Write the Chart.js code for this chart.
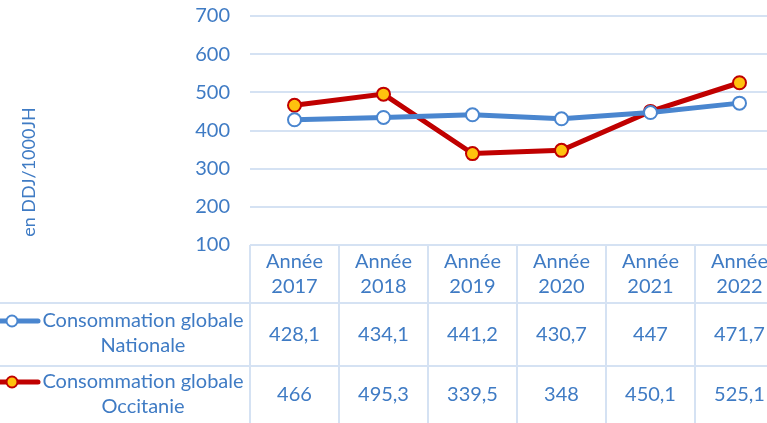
<!DOCTYPE html>
<html><head><meta charset="utf-8">
<script src="https://cdn.jsdelivr.net/npm/chart.js@4/dist/chart.umd.min.js"></script>
<style>html,body{margin:0;padding:0;overflow:hidden;background:#fff;width:767px;height:423px}canvas{display:block}</style>
</head><body>
<canvas id="c" width="800" height="423"></canvas>
<script>
const years = ["Année 2017","Année 2018","Année 2019","Année 2020","Année 2021","Année 2022"];
const nationale = [428.1, 434.1, 441.2, 430.7, 447, 471.7];
const occitanie = [466, 495.3, 339.5, 348, 450.1, 525.1];
const seriesNames = ["Consommation globale Nationale","Consommation globale Occitanie"];
const yTicks = [100,200,300,400,500,600,700];
const yTitle = "en DDJ/1000JH";

const TXT = '#3F7BC4';
const GRID = '#D5E2F3';
const FONT = 'Lato, "Open Sans", sans-serif';
const BLUE = '#4A86CF';
const RED = '#C00000';
const GOLD = '#FFC20E';

const fmt = v => String(v).replace('.', ',');

const tablePlugin = {
  id: 'dataTable',
  afterDraw(chart) {
    const ctx = chart.ctx;
    const x = chart.scales.x, ca = chart.chartArea;
    const n = years.length;
    const cw = (ca.right - ca.left) / n;
    const top = ca.bottom, r1 = top + 58, r2 = r1 + 63, bot = chart.height;
    ctx.save();
    ctx.strokeStyle = GRID; ctx.lineWidth = 2;
    ctx.beginPath();
    ctx.moveTo(ca.left, top); ctx.lineTo(chart.width, top);
    ctx.moveTo(0, r1); ctx.lineTo(chart.width, r1);
    ctx.moveTo(0, r2); ctx.lineTo(chart.width, r2);
    for (let i = 0; i <= n; i++) {
      const xb = x.getPixelForValue(i) - cw / 2;
      ctx.moveTo(xb, top); ctx.lineTo(xb, bot);
    }
    ctx.stroke();
    ctx.fillStyle = TXT;
    ctx.font = '20px ' + FONT;
    ctx.textAlign = 'center'; ctx.textBaseline = 'middle';
    years.forEach((y, i) => {
      const cx = x.getPixelForValue(i);
      const parts = y.split(' ');
      ctx.fillText(parts[0], cx, top + 17);
      ctx.fillText(parts[1], cx, top + 42);
      ctx.fillText(fmt(nationale[i]), cx, r1 + 32);
      ctx.fillText(fmt(occitanie[i]), cx, r2 + 29);
    });
    const rows = [[r1, BLUE, '#fff'], [r2, RED, GOLD]];
    rows.forEach(([ry, col, fill], k) => {
      const ly = ry + (k === 0 ? 18 : 16);
      ctx.strokeStyle = col; ctx.lineWidth = 5; ctx.lineCap = 'round';
      ctx.beginPath(); ctx.moveTo(-5, ly); ctx.lineTo(38, ly); ctx.stroke();
      ctx.beginPath(); ctx.arc(12, ly, 5.5, 0, Math.PI * 2);
      ctx.fillStyle = fill; ctx.fill();
      ctx.lineWidth = 2; ctx.stroke();
      const words = seriesNames[k].split(' ');
      ctx.fillStyle = TXT;
      ctx.fillText(words.slice(0, 2).join(' '), 143, ly);
      ctx.fillText(words.slice(2).join(' '), 143, ly + 25);
    });
    ctx.translate(29, 172); ctx.rotate(-Math.PI / 2);
    ctx.font = '18px ' + FONT;
    ctx.fillText(yTitle, 0, 0);
    ctx.restore();
  }
};

new Chart(document.getElementById('c'), {
  type: 'line',
  data: {
    labels: years,
    datasets: [
      { label: seriesNames[0], data: nationale, borderColor: BLUE, borderWidth: 5,
        pointRadius: 6.5, pointBorderWidth: 2, pointBackgroundColor: '#fff', pointBorderColor: BLUE, tension: 0 },
      { label: seriesNames[1], data: occitanie, borderColor: RED, borderWidth: 5,
        pointRadius: 6.5, pointBorderWidth: 2, pointBackgroundColor: GOLD, pointBorderColor: RED, tension: 0 }
    ]
  },
  options: {
    responsive: false, animation: false,
    layout: { padding: { left: 150, right: 16, top: 16, bottom: 178 } },
    plugins: { legend: { display: false }, tooltip: { enabled: false } },
    scales: {
      x: { display: false, offset: true },
      y: {
        min: 100, max: 700,
        afterFit: s => { s.width = 100; s.paddingTop = 0; },
        afterBuildTicks: s => { s.ticks = yTicks.map(v => ({ value: v })); },
        ticks: { color: TXT, font: { family: FONT, size: 20 }, padding: 20 },
        grid: { color: GRID, lineWidth: 2, drawTicks: false },
        border: { display: false }
      }
    }
  },
  plugins: [tablePlugin]
});
</script>
</body></html>
